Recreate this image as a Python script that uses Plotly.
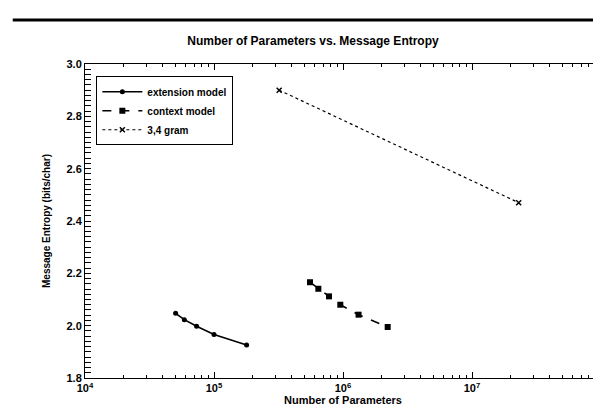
import plotly.graph_objects as go

ext_x = [50400, 58900, 73300, 100000, 179000]
ext_y = [2.047, 2.023, 1.998, 1.966, 1.926]

ctx_x = [555000, 644000, 779000, 953000, 1320000, 2220000]
ctx_y = [2.166, 2.141, 2.112, 2.080, 2.042, 1.995]

gram_x = [320000, 23000000]
gram_y = [2.90, 2.47]

x_tickvals = [1e4, 1e5, 1e6, 1e7, 1e8]
x_ticktext = ["10<sup>4</sup>", "10<sup>5</sup>", "10<sup>6</sup>", "10<sup>7</sup>", "10<sup>8</sup>"]
x_minor = [m * d for d in [1e4, 1e5, 1e6, 1e7] for m in range(2, 10)]
y_tickvals = [1.8, 2.0, 2.2, 2.4, 2.6, 2.8, 3.0]

FONT = "Liberation Sans, Arial, sans-serif"

fig = go.Figure()
fig.add_trace(go.Scatter(x=ext_x, y=ext_y, mode="lines+markers", name="extension model",
                         line=dict(color="black", width=1.6, dash="solid"),
                         marker=dict(symbol="circle", size=5, color="black")))
fig.add_trace(go.Scatter(x=ctx_x, y=ctx_y, mode="lines+markers", name="context model",
                         line=dict(color="black", width=1.6, dash="dash"),
                         marker=dict(symbol="square", size=6, color="black")))
fig.add_trace(go.Scatter(x=gram_x, y=gram_y, mode="lines+markers", name="3,4 gram",
                         line=dict(color="black", width=1.2, dash="dot"),
                         marker=dict(symbol="x-thin", size=5, color="black",
                                     line=dict(color="black", width=1.5))))
# empty trace so the minor-tick overlay axis is drawn
fig.add_trace(go.Scatter(x=[], y=[], xaxis="x2", showlegend=False, hoverinfo="skip"))

fig.update_layout(
    width=601, height=409,
    margin=dict(l=77, r=8, t=56, b=39),
    paper_bgcolor="white", plot_bgcolor="white",
    font=dict(family=FONT, color="black", size=11, weight="bold"),
    title=dict(text="Number of Parameters vs. Message Entropy", x=305 / 601, xref="container",
               xanchor="center", y=1 - 33 / 409, yanchor="middle",
               font=dict(size=12, family=FONT, weight="bold")),
    showlegend=True,
    legend=dict(x=0.022, y=0.961, xanchor="left", yanchor="top",
                bordercolor="black", borderwidth=1, bgcolor="white",
                font=dict(size=10, family=FONT, weight="bold"), tracegroupgap=0,
                itemwidth=40),
    shapes=[dict(type="line", xref="paper", yref="paper", layer="above",
                 x0=-0.14, x1=1.01, y0=1.14, y1=1.14,
                 line=dict(color="black", width=3))],
)

fig.update_layout(
    xaxis=dict(type="log", range=[4, 8], tickvals=x_tickvals, ticktext=x_ticktext,
               showgrid=False, zeroline=False, showline=True, linecolor="black", linewidth=1,
               mirror="allticks", ticks="inside", ticklen=6, tickcolor="black",
               tickfont=dict(size=11, family=FONT, weight="bold"),
               title=dict(text="Number of Parameters", standoff=0,
                          font=dict(size=11, family=FONT, weight="bold"))),
    xaxis2=dict(type="log", range=[4, 8], overlaying="x", side="bottom", anchor="y",
                tickvals=x_minor, showticklabels=False,
                showgrid=False, zeroline=False, showline=False,
                mirror="allticks", ticks="inside", ticklen=3, tickcolor="black"),
    yaxis=dict(range=[1.8, 3.0], tickvals=y_tickvals, tickformat=".1f",
               showgrid=False, zeroline=False, showline=True, linecolor="black", linewidth=1,
               mirror="allticks", ticks="inside", ticklen=6, tickcolor="black",
               minor=dict(ticks="inside", ticklen=3, dtick=0.02, tickcolor="black", showgrid=False),
               tickfont=dict(size=11, family=FONT, weight="bold"),
               title=dict(text="Message Entropy (bits/char)", standoff=14,
                          font=dict(size=10, family=FONT, weight="bold"))),
)

fig.write_html("out.html")
